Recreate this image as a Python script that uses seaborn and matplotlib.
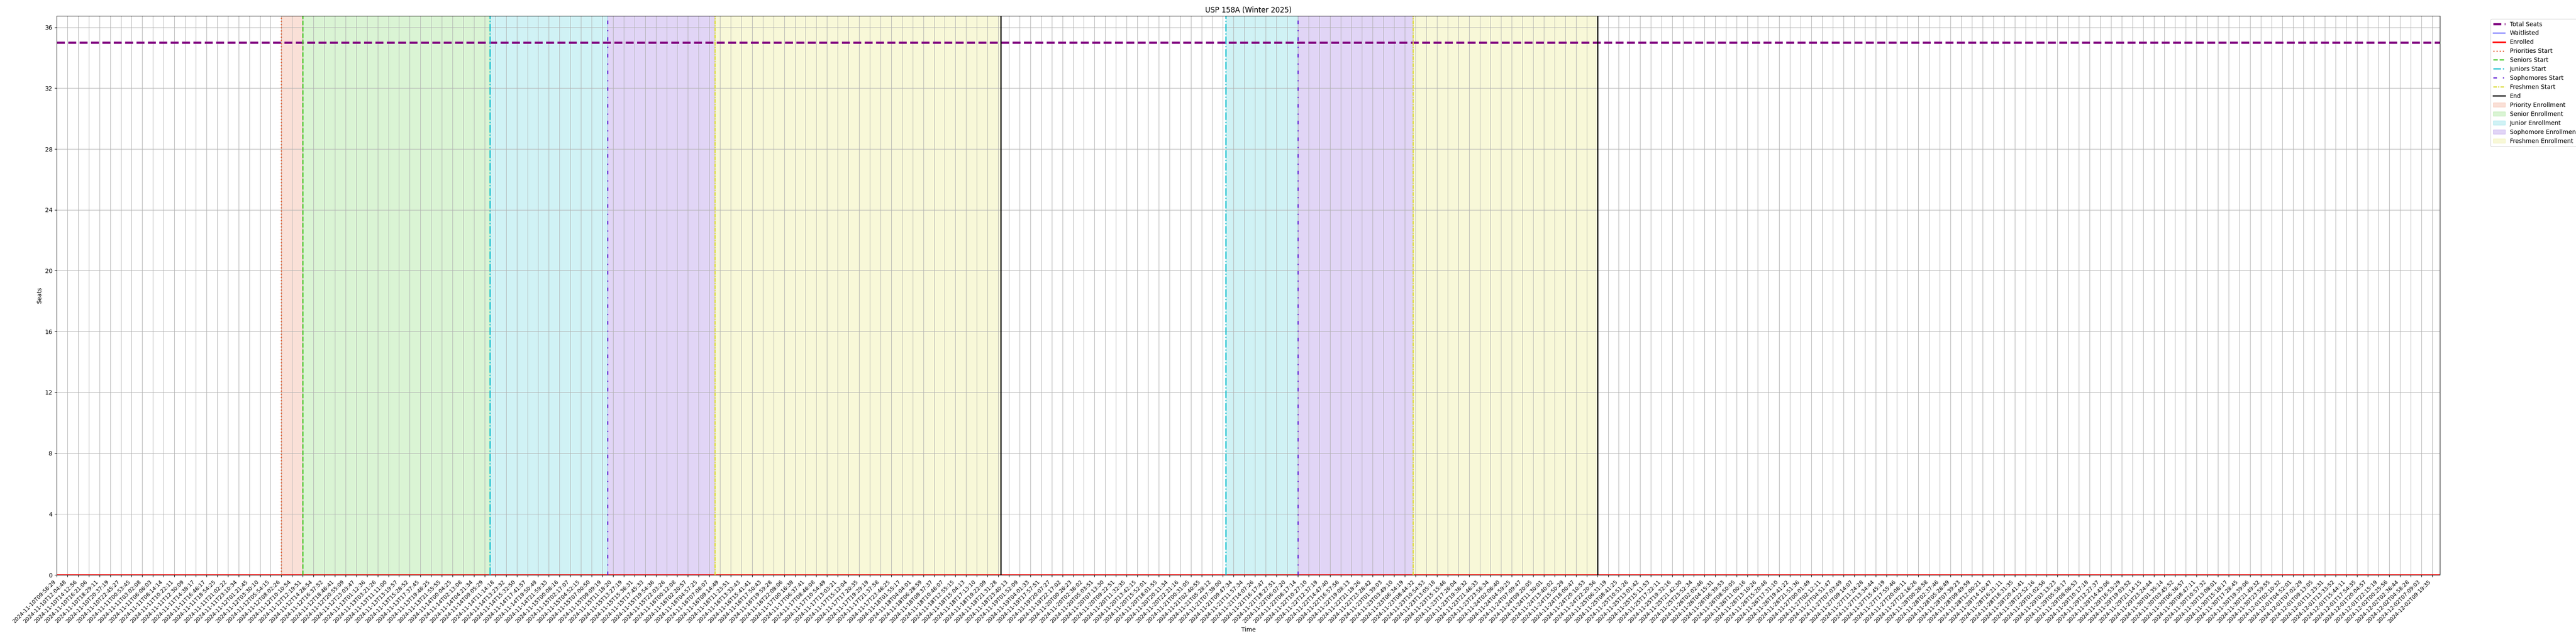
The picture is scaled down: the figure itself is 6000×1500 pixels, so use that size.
import numpy as np
import matplotlib
matplotlib.use("Agg")
import matplotlib.pyplot as plt
import seaborn as sns
from matplotlib.ticker import MultipleLocator

# ---------------- data ----------------
title = "USP 158A (Winter 2025)"
total_seats = 35
tick_every = 4  # one labelled tick every 4 snapshots

tick_times = [
    "2024-11-10T09:56:29", "2024-11-10T12:04:48", "2024-11-10T14:12:56", "2024-11-10T16:21:06",
    "2024-11-10T18:29:11", "2024-11-10T20:37:19", "2024-11-10T22:45:27", "2024-11-11T00:53:45",
    "2024-11-11T03:02:08", "2024-11-11T06:06:03", "2024-11-11T08:14:14", "2024-11-11T10:22:11",
    "2024-11-11T12:30:09", "2024-11-11T14:38:17", "2024-11-11T16:46:17", "2024-11-11T18:54:25",
    "2024-11-11T21:02:22", "2024-11-11T23:10:34", "2024-11-12T01:21:45", "2024-11-12T03:30:10",
    "2024-11-12T05:54:15", "2024-11-12T08:02:26", "2024-11-12T10:10:54", "2024-11-12T12:19:51",
    "2024-11-12T14:28:54", "2024-11-12T16:37:52", "2024-11-12T18:46:41", "2024-11-12T20:55:09",
    "2024-11-12T23:03:47", "2024-11-13T01:12:36", "2024-11-13T03:21:26", "2024-11-13T11:11:00",
    "2024-11-13T13:19:57", "2024-11-13T15:28:52", "2024-11-13T17:37:45", "2024-11-13T19:46:25",
    "2024-11-13T21:55:55", "2024-11-14T00:04:25", "2024-11-14T02:13:08", "2024-11-14T04:21:34",
    "2024-11-14T09:05:29", "2024-11-14T11:14:18", "2024-11-14T13:23:32", "2024-11-14T15:32:50",
    "2024-11-14T17:41:57", "2024-11-14T19:50:49", "2024-11-14T21:59:33", "2024-11-15T00:08:16",
    "2024-11-15T02:17:07", "2024-11-15T04:52:15", "2024-11-15T07:00:50", "2024-11-15T09:09:19",
    "2024-11-15T11:18:20", "2024-11-15T13:27:19", "2024-11-15T15:36:31", "2024-11-15T17:45:33",
    "2024-11-15T19:54:36", "2024-11-15T22:03:26", "2024-11-16T00:12:08", "2024-11-16T02:20:57",
    "2024-11-16T04:57:25", "2024-11-16T07:06:07", "2024-11-16T09:14:49", "2024-11-16T11:23:51",
    "2024-11-16T13:32:43", "2024-11-16T15:41:41", "2024-11-16T17:50:43", "2024-11-16T19:59:28",
    "2024-11-16T22:08:06", "2024-11-17T00:16:38", "2024-11-17T06:37:41", "2024-11-17T08:46:08",
    "2024-11-17T10:54:49", "2024-11-17T13:03:21", "2024-11-17T15:12:04", "2024-11-17T17:20:35",
    "2024-11-17T19:29:19", "2024-11-17T21:37:58", "2024-11-17T23:46:25", "2024-11-18T01:55:17",
    "2024-11-18T04:04:01", "2024-11-18T06:28:59", "2024-11-18T08:37:37", "2024-11-18T10:46:07",
    "2024-11-18T12:55:15", "2024-11-18T15:04:13", "2024-11-18T17:13:10", "2024-11-18T19:22:09",
    "2024-11-18T21:31:28", "2024-11-18T23:40:13", "2024-11-19T01:52:09", "2024-11-19T04:01:33",
    "2024-11-19T17:57:51", "2024-11-19T20:07:27", "2024-11-19T22:17:02", "2024-11-20T00:26:23",
    "2024-11-20T02:36:02", "2024-11-20T05:03:51", "2024-11-20T07:13:30", "2024-11-20T09:22:51",
    "2024-11-20T11:32:35", "2024-11-20T13:42:15", "2024-11-20T15:52:01", "2024-11-20T18:01:55",
    "2024-11-20T20:11:34", "2024-11-20T22:21:16", "2024-11-21T00:31:05", "2024-11-21T02:40:55",
    "2024-11-21T05:28:12", "2024-11-21T07:38:00", "2024-11-21T09:47:34", "2024-11-21T11:57:34",
    "2024-11-21T14:07:26", "2024-11-21T16:17:47", "2024-11-21T18:27:51", "2024-11-22T06:07:20",
    "2024-11-22T08:17:14", "2024-11-22T10:27:10", "2024-11-22T12:37:19", "2024-11-22T14:47:40",
    "2024-11-22T16:57:56", "2024-11-22T19:08:13", "2024-11-22T21:18:26", "2024-11-22T23:28:42",
    "2024-11-23T01:39:03", "2024-11-23T03:49:10", "2024-11-23T06:34:19", "2024-11-23T08:44:32",
    "2024-11-23T10:54:53", "2024-11-23T13:05:18", "2024-11-23T15:15:46", "2024-11-23T17:26:04",
    "2024-11-23T19:36:32", "2024-11-23T21:46:33", "2024-11-23T23:56:34", "2024-11-24T02:06:40",
    "2024-11-24T04:59:25", "2024-11-24T07:09:47", "2024-11-24T09:20:05", "2024-11-24T11:30:01",
    "2024-11-24T13:40:02", "2024-11-24T15:50:29", "2024-11-24T18:00:47", "2024-11-24T20:10:53",
    "2024-11-24T22:20:56", "2024-11-25T06:31:19", "2024-11-25T08:41:25", "2024-11-25T10:51:28",
    "2024-11-25T13:01:42", "2024-11-25T15:11:53", "2024-11-25T17:22:11", "2024-11-25T19:32:16",
    "2024-11-25T21:42:30", "2024-11-25T23:52:34", "2024-11-26T02:02:46", "2024-11-26T04:15:31",
    "2024-11-26T06:39:53", "2024-11-26T08:50:05", "2024-11-26T11:00:16", "2024-11-26T13:10:26",
    "2024-11-26T15:20:48", "2024-11-26T17:31:10", "2024-11-26T19:41:22", "2024-11-26T21:51:36",
    "2024-11-27T00:01:49", "2024-11-27T02:12:11", "2024-11-27T04:51:47", "2024-11-27T07:03:49",
    "2024-11-27T09:14:07", "2024-11-27T11:24:28", "2024-11-27T13:34:44", "2024-11-27T15:45:19",
    "2024-11-27T17:55:46", "2024-11-27T20:06:11", "2024-11-27T22:16:26", "2024-11-28T00:26:58",
    "2024-11-28T02:37:46", "2024-11-28T05:28:49", "2024-11-28T07:39:23", "2024-11-28T09:49:59",
    "2024-11-28T12:00:21", "2024-11-28T14:10:47", "2024-11-28T16:21:11", "2024-11-28T18:31:35",
    "2024-11-28T20:41:41", "2024-11-28T22:52:16", "2024-11-29T01:02:56", "2024-11-29T03:13:23",
    "2024-11-29T05:56:17", "2024-11-29T08:06:53", "2024-11-29T10:17:18", "2024-11-29T12:27:37",
    "2024-11-29T14:43:06", "2024-11-29T16:53:29", "2024-11-29T19:03:52", "2024-11-29T21:14:15",
    "2024-11-29T23:24:44", "2024-11-30T01:35:14", "2024-11-30T03:45:52", "2024-11-30T06:36:57",
    "2024-11-30T08:47:11", "2024-11-30T10:57:32", "2024-11-30T13:08:01", "2024-11-30T15:18:17",
    "2024-11-30T17:28:45", "2024-11-30T19:39:06", "2024-11-30T21:49:32", "2024-11-30T23:59:55",
    "2024-12-01T02:10:32", "2024-12-01T04:52:01", "2024-12-01T07:02:29", "2024-12-01T09:13:05",
    "2024-12-01T11:23:31", "2024-12-01T13:33:52", "2024-12-01T15:44:11", "2024-12-01T17:54:35",
    "2024-12-01T20:04:57", "2024-12-01T22:15:19", "2024-12-02T00:25:56", "2024-12-02T02:36:44",
    "2024-12-02T04:58:28", "2024-12-02T07:09:03", "2024-12-02T09:19:35",
]

# snapshot counts (892 snapshots; all zero)
enrolled = [
    0, 0, 0, 0, 0, 0, 0, 0, 0, 0, 0, 0, 0, 0, 0, 0, 0, 0, 0, 0, 0, 0, 0, 0, 0, 0, 0, 0, 0, 0, 0, 0, 0, 0, 0, 0, 0, 0, 0, 0,
    0, 0, 0, 0, 0, 0, 0, 0, 0, 0, 0, 0, 0, 0, 0, 0, 0, 0, 0, 0, 0, 0, 0, 0, 0, 0, 0, 0, 0, 0, 0, 0, 0, 0, 0, 0, 0, 0, 0, 0,
    0, 0, 0, 0, 0, 0, 0, 0, 0, 0, 0, 0, 0, 0, 0, 0, 0, 0, 0, 0, 0, 0, 0, 0, 0, 0, 0, 0, 0, 0, 0, 0, 0, 0, 0, 0, 0, 0, 0, 0,
    0, 0, 0, 0, 0, 0, 0, 0, 0, 0, 0, 0, 0, 0, 0, 0, 0, 0, 0, 0, 0, 0, 0, 0, 0, 0, 0, 0, 0, 0, 0, 0, 0, 0, 0, 0, 0, 0, 0, 0,
    0, 0, 0, 0, 0, 0, 0, 0, 0, 0, 0, 0, 0, 0, 0, 0, 0, 0, 0, 0, 0, 0, 0, 0, 0, 0, 0, 0, 0, 0, 0, 0, 0, 0, 0, 0, 0, 0, 0, 0,
    0, 0, 0, 0, 0, 0, 0, 0, 0, 0, 0, 0, 0, 0, 0, 0, 0, 0, 0, 0, 0, 0, 0, 0, 0, 0, 0, 0, 0, 0, 0, 0, 0, 0, 0, 0, 0, 0, 0, 0,
    0, 0, 0, 0, 0, 0, 0, 0, 0, 0, 0, 0, 0, 0, 0, 0, 0, 0, 0, 0, 0, 0, 0, 0, 0, 0, 0, 0, 0, 0, 0, 0, 0, 0, 0, 0, 0, 0, 0, 0,
    0, 0, 0, 0, 0, 0, 0, 0, 0, 0, 0, 0, 0, 0, 0, 0, 0, 0, 0, 0, 0, 0, 0, 0, 0, 0, 0, 0, 0, 0, 0, 0, 0, 0, 0, 0, 0, 0, 0, 0,
    0, 0, 0, 0, 0, 0, 0, 0, 0, 0, 0, 0, 0, 0, 0, 0, 0, 0, 0, 0, 0, 0, 0, 0, 0, 0, 0, 0, 0, 0, 0, 0, 0, 0, 0, 0, 0, 0, 0, 0,
    0, 0, 0, 0, 0, 0, 0, 0, 0, 0, 0, 0, 0, 0, 0, 0, 0, 0, 0, 0, 0, 0, 0, 0, 0, 0, 0, 0, 0, 0, 0, 0, 0, 0, 0, 0, 0, 0, 0, 0,
    0, 0, 0, 0, 0, 0, 0, 0, 0, 0, 0, 0, 0, 0, 0, 0, 0, 0, 0, 0, 0, 0, 0, 0, 0, 0, 0, 0, 0, 0, 0, 0, 0, 0, 0, 0, 0, 0, 0, 0,
    0, 0, 0, 0, 0, 0, 0, 0, 0, 0, 0, 0, 0, 0, 0, 0, 0, 0, 0, 0, 0, 0, 0, 0, 0, 0, 0, 0, 0, 0, 0, 0, 0, 0, 0, 0, 0, 0, 0, 0,
    0, 0, 0, 0, 0, 0, 0, 0, 0, 0, 0, 0, 0, 0, 0, 0, 0, 0, 0, 0, 0, 0, 0, 0, 0, 0, 0, 0, 0, 0, 0, 0, 0, 0, 0, 0, 0, 0, 0, 0,
    0, 0, 0, 0, 0, 0, 0, 0, 0, 0, 0, 0, 0, 0, 0, 0, 0, 0, 0, 0, 0, 0, 0, 0, 0, 0, 0, 0, 0, 0, 0, 0, 0, 0, 0, 0, 0, 0, 0, 0,
    0, 0, 0, 0, 0, 0, 0, 0, 0, 0, 0, 0, 0, 0, 0, 0, 0, 0, 0, 0, 0, 0, 0, 0, 0, 0, 0, 0, 0, 0, 0, 0, 0, 0, 0, 0, 0, 0, 0, 0,
    0, 0, 0, 0, 0, 0, 0, 0, 0, 0, 0, 0, 0, 0, 0, 0, 0, 0, 0, 0, 0, 0, 0, 0, 0, 0, 0, 0, 0, 0, 0, 0, 0, 0, 0, 0, 0, 0, 0, 0,
    0, 0, 0, 0, 0, 0, 0, 0, 0, 0, 0, 0, 0, 0, 0, 0, 0, 0, 0, 0, 0, 0, 0, 0, 0, 0, 0, 0, 0, 0, 0, 0, 0, 0, 0, 0, 0, 0, 0, 0,
    0, 0, 0, 0, 0, 0, 0, 0, 0, 0, 0, 0, 0, 0, 0, 0, 0, 0, 0, 0, 0, 0, 0, 0, 0, 0, 0, 0, 0, 0, 0, 0, 0, 0, 0, 0, 0, 0, 0, 0,
    0, 0, 0, 0, 0, 0, 0, 0, 0, 0, 0, 0, 0, 0, 0, 0, 0, 0, 0, 0, 0, 0, 0, 0, 0, 0, 0, 0, 0, 0, 0, 0, 0, 0, 0, 0, 0, 0, 0, 0,
    0, 0, 0, 0, 0, 0, 0, 0, 0, 0, 0, 0, 0, 0, 0, 0, 0, 0, 0, 0, 0, 0, 0, 0, 0, 0, 0, 0, 0, 0, 0, 0, 0, 0, 0, 0, 0, 0, 0, 0,
    0, 0, 0, 0, 0, 0, 0, 0, 0, 0, 0, 0, 0, 0, 0, 0, 0, 0, 0, 0, 0, 0, 0, 0, 0, 0, 0, 0, 0, 0, 0, 0, 0, 0, 0, 0, 0, 0, 0, 0,
    0, 0, 0, 0, 0, 0, 0, 0, 0, 0, 0, 0, 0, 0, 0, 0, 0, 0, 0, 0, 0, 0, 0, 0, 0, 0, 0, 0, 0, 0, 0, 0, 0, 0, 0, 0, 0, 0, 0, 0,
    0, 0, 0, 0, 0, 0, 0, 0, 0, 0, 0, 0,
]
waitlisted = [
    0, 0, 0, 0, 0, 0, 0, 0, 0, 0, 0, 0, 0, 0, 0, 0, 0, 0, 0, 0, 0, 0, 0, 0, 0, 0, 0, 0, 0, 0, 0, 0, 0, 0, 0, 0, 0, 0, 0, 0,
    0, 0, 0, 0, 0, 0, 0, 0, 0, 0, 0, 0, 0, 0, 0, 0, 0, 0, 0, 0, 0, 0, 0, 0, 0, 0, 0, 0, 0, 0, 0, 0, 0, 0, 0, 0, 0, 0, 0, 0,
    0, 0, 0, 0, 0, 0, 0, 0, 0, 0, 0, 0, 0, 0, 0, 0, 0, 0, 0, 0, 0, 0, 0, 0, 0, 0, 0, 0, 0, 0, 0, 0, 0, 0, 0, 0, 0, 0, 0, 0,
    0, 0, 0, 0, 0, 0, 0, 0, 0, 0, 0, 0, 0, 0, 0, 0, 0, 0, 0, 0, 0, 0, 0, 0, 0, 0, 0, 0, 0, 0, 0, 0, 0, 0, 0, 0, 0, 0, 0, 0,
    0, 0, 0, 0, 0, 0, 0, 0, 0, 0, 0, 0, 0, 0, 0, 0, 0, 0, 0, 0, 0, 0, 0, 0, 0, 0, 0, 0, 0, 0, 0, 0, 0, 0, 0, 0, 0, 0, 0, 0,
    0, 0, 0, 0, 0, 0, 0, 0, 0, 0, 0, 0, 0, 0, 0, 0, 0, 0, 0, 0, 0, 0, 0, 0, 0, 0, 0, 0, 0, 0, 0, 0, 0, 0, 0, 0, 0, 0, 0, 0,
    0, 0, 0, 0, 0, 0, 0, 0, 0, 0, 0, 0, 0, 0, 0, 0, 0, 0, 0, 0, 0, 0, 0, 0, 0, 0, 0, 0, 0, 0, 0, 0, 0, 0, 0, 0, 0, 0, 0, 0,
    0, 0, 0, 0, 0, 0, 0, 0, 0, 0, 0, 0, 0, 0, 0, 0, 0, 0, 0, 0, 0, 0, 0, 0, 0, 0, 0, 0, 0, 0, 0, 0, 0, 0, 0, 0, 0, 0, 0, 0,
    0, 0, 0, 0, 0, 0, 0, 0, 0, 0, 0, 0, 0, 0, 0, 0, 0, 0, 0, 0, 0, 0, 0, 0, 0, 0, 0, 0, 0, 0, 0, 0, 0, 0, 0, 0, 0, 0, 0, 0,
    0, 0, 0, 0, 0, 0, 0, 0, 0, 0, 0, 0, 0, 0, 0, 0, 0, 0, 0, 0, 0, 0, 0, 0, 0, 0, 0, 0, 0, 0, 0, 0, 0, 0, 0, 0, 0, 0, 0, 0,
    0, 0, 0, 0, 0, 0, 0, 0, 0, 0, 0, 0, 0, 0, 0, 0, 0, 0, 0, 0, 0, 0, 0, 0, 0, 0, 0, 0, 0, 0, 0, 0, 0, 0, 0, 0, 0, 0, 0, 0,
    0, 0, 0, 0, 0, 0, 0, 0, 0, 0, 0, 0, 0, 0, 0, 0, 0, 0, 0, 0, 0, 0, 0, 0, 0, 0, 0, 0, 0, 0, 0, 0, 0, 0, 0, 0, 0, 0, 0, 0,
    0, 0, 0, 0, 0, 0, 0, 0, 0, 0, 0, 0, 0, 0, 0, 0, 0, 0, 0, 0, 0, 0, 0, 0, 0, 0, 0, 0, 0, 0, 0, 0, 0, 0, 0, 0, 0, 0, 0, 0,
    0, 0, 0, 0, 0, 0, 0, 0, 0, 0, 0, 0, 0, 0, 0, 0, 0, 0, 0, 0, 0, 0, 0, 0, 0, 0, 0, 0, 0, 0, 0, 0, 0, 0, 0, 0, 0, 0, 0, 0,
    0, 0, 0, 0, 0, 0, 0, 0, 0, 0, 0, 0, 0, 0, 0, 0, 0, 0, 0, 0, 0, 0, 0, 0, 0, 0, 0, 0, 0, 0, 0, 0, 0, 0, 0, 0, 0, 0, 0, 0,
    0, 0, 0, 0, 0, 0, 0, 0, 0, 0, 0, 0, 0, 0, 0, 0, 0, 0, 0, 0, 0, 0, 0, 0, 0, 0, 0, 0, 0, 0, 0, 0, 0, 0, 0, 0, 0, 0, 0, 0,
    0, 0, 0, 0, 0, 0, 0, 0, 0, 0, 0, 0, 0, 0, 0, 0, 0, 0, 0, 0, 0, 0, 0, 0, 0, 0, 0, 0, 0, 0, 0, 0, 0, 0, 0, 0, 0, 0, 0, 0,
    0, 0, 0, 0, 0, 0, 0, 0, 0, 0, 0, 0, 0, 0, 0, 0, 0, 0, 0, 0, 0, 0, 0, 0, 0, 0, 0, 0, 0, 0, 0, 0, 0, 0, 0, 0, 0, 0, 0, 0,
    0, 0, 0, 0, 0, 0, 0, 0, 0, 0, 0, 0, 0, 0, 0, 0, 0, 0, 0, 0, 0, 0, 0, 0, 0, 0, 0, 0, 0, 0, 0, 0, 0, 0, 0, 0, 0, 0, 0, 0,
    0, 0, 0, 0, 0, 0, 0, 0, 0, 0, 0, 0, 0, 0, 0, 0, 0, 0, 0, 0, 0, 0, 0, 0, 0, 0, 0, 0, 0, 0, 0, 0, 0, 0, 0, 0, 0, 0, 0, 0,
    0, 0, 0, 0, 0, 0, 0, 0, 0, 0, 0, 0, 0, 0, 0, 0, 0, 0, 0, 0, 0, 0, 0, 0, 0, 0, 0, 0, 0, 0, 0, 0, 0, 0, 0, 0, 0, 0, 0, 0,
    0, 0, 0, 0, 0, 0, 0, 0, 0, 0, 0, 0, 0, 0, 0, 0, 0, 0, 0, 0, 0, 0, 0, 0, 0, 0, 0, 0, 0, 0, 0, 0, 0, 0, 0, 0, 0, 0, 0, 0,
    0, 0, 0, 0, 0, 0, 0, 0, 0, 0, 0, 0,
]

# enrollment phases: snapshot index where each phase starts
phase_names = ["Priorities", "Seniors", "Juniors", "Sophomores", "Freshmen"]
span_names = ["Priority", "Senior", "Junior", "Sophomore", "Freshmen"]
pass1_phase_starts = [84, 92, 162, 206, 246]     # Priorities..Freshmen
pass1_end = 353
pass2_phase_starts = [None, None, 437, 464, 507]  # only Juniors..Freshmen
pass2_end = 576

# ---------------- styling ----------------
phase_colors = ["#E8663A", "#48C82A", "#17C0CE", "#6A2ED6", "#DCDC3C"]
phase_styles = [":", "--", "-.", (0, (3, 5, 1, 5)), (0, (3, 1, 1, 1))]

fig, ax = plt.subplots(figsize=(60, 15), dpi=100)
fig.subplots_adjust(left=0.022, right=0.9472, bottom=0.1073, top=0.9753)

x_enr = np.arange(len(enrolled))
x_wait = np.arange(len(waitlisted))

ax.axhline(total_seats, color="purple", linestyle="--", linewidth=3.6, label="Total Seats")
sns.lineplot(x=x_wait, y=waitlisted, color="blue", linewidth=1.2, label="Waitlisted", ax=ax)
sns.lineplot(x=x_enr, y=enrolled, color="red", linewidth=2.5, label="Enrolled", ax=ax)

# phase start lines (pass 1 labelled, pass 2 not)
for name, start, col, ls in zip(phase_names, pass1_phase_starts, phase_colors, phase_styles):
    ax.axvline(start, color=col, linestyle=ls, linewidth=2, label=f"{name} Start")
ax.axvline(pass1_end, color="black", linestyle="-", linewidth=2, label="End")
for start, col, ls in zip(pass2_phase_starts, phase_colors, phase_styles):
    if start is not None:
        ax.axvline(start, color=col, linestyle=ls, linewidth=2)
ax.axvline(pass2_end, color="black", linestyle="-", linewidth=2)

# shaded enrollment windows
bounds1 = pass1_phase_starts + [pass1_end]
for i, (name, col) in enumerate(zip(span_names, phase_colors)):
    ax.axvspan(bounds1[i], bounds1[i + 1], color=col, alpha=0.2, label=f"{name} Enrollment")
starts2 = [s for s in pass2_phase_starts if s is not None] + [pass2_end]
cols2 = [c for s, c in zip(pass2_phase_starts, phase_colors) if s is not None]
for i, col in enumerate(cols2):
    ax.axvspan(starts2[i], starts2[i + 1], color=col, alpha=0.2)

# axes
n = len(enrolled)
tick_pos = np.arange(0, n, tick_every)[: len(tick_times)]
ax.set_xticks(tick_pos)
ax.set_xticklabels(tick_times, rotation=45, ha="right", fontsize=9)
ax.set_xlim(0, n - 1)
ax.set_ylim(0, total_seats * 1.05)
ax.yaxis.set_major_locator(MultipleLocator(4))
ax.grid(True, color="#b0b0b0", linewidth=0.8)
ax.set_title(title)
ax.set_xlabel("Time")
ax.set_ylabel("Seats")

ax.legend(loc="upper left", bbox_to_anchor=(1.02, 1))

fig.savefig("out.png", dpi=100)
